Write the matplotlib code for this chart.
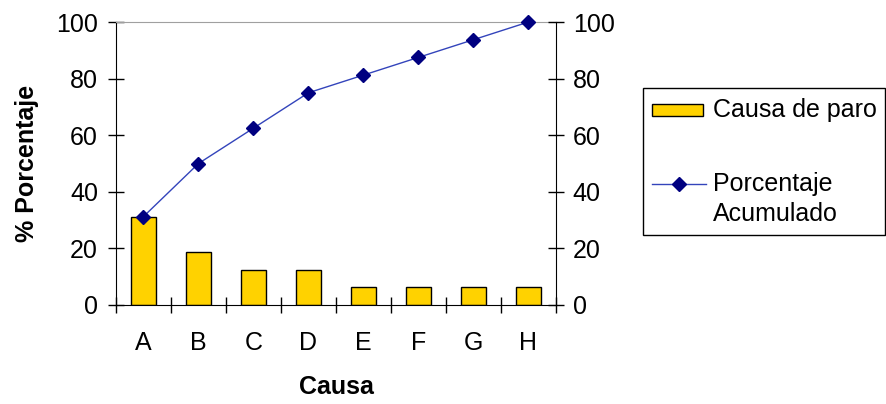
import numpy as np
import matplotlib
matplotlib.use("Agg")
import matplotlib.pyplot as plt
from matplotlib.patches import Rectangle
from matplotlib.lines import Line2D

plt.rcParams["font.family"] = ["Liberation Sans", "DejaVu Sans"]

# data
causas = ["A", "B", "C", "D", "E", "F", "G", "H"]
porcentaje = [31.25, 18.75, 12.5, 12.5, 6.25, 6.25, 6.25, 6.25]
acumulado = [31.25, 50.0, 62.5, 75.0, 81.25, 87.5, 93.75, 100.0]
yticks = [0, 20, 40, 60, 80, 100]

bar_color = "#FFD200"
line_color = "#3344BB"
marker_color = "#000080"
fs = 18

W, H = 887, 404
fig = plt.figure(figsize=(W / 100, H / 100), dpi=100)
ax = fig.add_axes([116 / W, 1 - 305 / H, 440 / W, 283 / H])

x = np.arange(len(causas))
ax.bar(x, porcentaje, width=0.44, color=bar_color, edgecolor="black", linewidth=1, zorder=2)
ax.plot(x, acumulado, color=line_color, linewidth=1, marker="D", markersize=7,
        markerfacecolor=marker_color, markeredgecolor=marker_color, zorder=3,
        clip_on=False)

ax.set_xlim(-0.5, len(causas) - 0.5)
ax.set_ylim(0, 100)
ax.set_yticks(yticks)
ax.set_xticks(x)
ax.set_xticklabels(causas)
ax.set_xticks(np.arange(len(causas) + 1) - 0.5, minor=True)

ax.tick_params(axis="x", which="major", length=0, pad=19, labelsize=fs)
ax.tick_params(axis="x", which="minor", direction="inout", length=12, width=1)
ax.tick_params(axis="y", direction="inout", length=12, width=1, pad=7, labelsize=fs)

ax.spines["top"].set_color("#A0A0A0")
ax.spines["right"].set_visible(False)
for s in ["left", "bottom"]:
    ax.spines[s].set_color("black")

ax2 = ax.twinx()
ax2.set_ylim(0, 100)
ax2.set_yticks(yticks)
ax2.tick_params(axis="y", direction="inout", length=12, width=1, pad=6, labelsize=fs)
ax2.spines["top"].set_visible(False)
ax2.spines["left"].set_visible(False)
ax2.spines["bottom"].set_visible(False)

ax.set_ylabel("% Porcentaje", fontsize=fs, fontweight="bold", labelpad=12)
ax.set_xlabel("Causa", fontsize=fs, fontweight="bold", labelpad=14)

# legend drawn by hand to match layout
def fx(px):
    return px / W

def fy(py):
    return 1 - py / H

fig.patches.append(Rectangle((fx(643), fy(235)), fx(885) - fx(643), fy(88) - fy(235),
                             transform=fig.transFigure, facecolor="white",
                             edgecolor="black", linewidth=1))
fig.patches.append(Rectangle((fx(652), fy(116)), fx(703) - fx(652), fy(104) - fy(116),
                             transform=fig.transFigure, facecolor=bar_color,
                             edgecolor="black", linewidth=1))
fig.lines.append(Line2D([fx(652), fx(706)], [fy(184), fy(184)], transform=fig.transFigure,
                        color=line_color, linewidth=1))
fig.lines.append(Line2D([fx(679)], [fy(184)], transform=fig.transFigure, marker="D",
                        markersize=7, color=marker_color, linestyle="none"))
fig.text(fx(713), fy(110), "Causa de paro", fontsize=fs, va="center", ha="left")
fig.text(fx(713), fy(184), "Porcentaje", fontsize=fs, va="center", ha="left")
fig.text(fx(713), fy(214), "Acumulado", fontsize=fs, va="center", ha="left")

fig.savefig("out.png", dpi=100)
